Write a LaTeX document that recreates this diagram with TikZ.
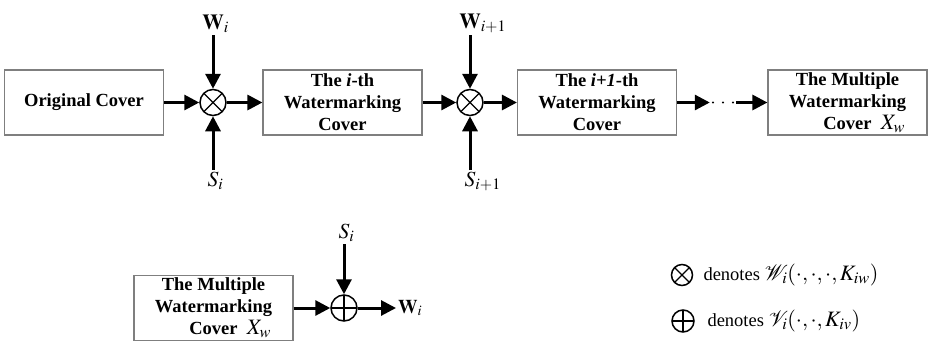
\documentclass[tikz,border=0pt]{standalone}
\usepackage{amsmath, amssymb}
\usepackage{mathptmx}
\usepackage{fontspec}
\setmainfont{Liberation Serif}
\usepackage{xcolor}
\definecolor{boxgray}{HTML}{7F7F7F}
\usepackage{tikz}
\usetikzlibrary{positioning, arrows.meta}
\newcommand{\multcover}{The Multiple\\Watermarking\\\hspace*{1.8em}Cover\ \ {\fontsize{22bp}{22bp}\selectfont$X_{w}$}}

\begin{document}
\begin{tikzpicture}[
  x=1bp, y=-1bp,
  font=\fontsize{18.5bp}{22bp}\selectfont,
  cover/.style={draw=boxgray, line width=1.2bp, minimum width=159bp, minimum height=65bp,
                inner sep=1bp, align=center, font=\fontsize{18.5bp}{22bp}\selectfont\bfseries},
  mul/.style={draw, circle, line width=1.5bp, minimum size=26bp, inner sep=0pt,
              path picture={\draw[line width=1.3bp]
                (path picture bounding box.north west) -- (path picture bounding box.south east)
                (path picture bounding box.north east) -- (path picture bounding box.south west);}},
  add/.style={draw, circle, line width=1.5bp, minimum size=26bp, inner sep=0pt,
              path picture={\draw[line width=1.3bp]
                (path picture bounding box.north) -- (path picture bounding box.south)
                (path picture bounding box.west) -- (path picture bounding box.east);}},
  lbl/.style={inner sep=2bp, font=\fontsize{21.5bp}{24bp}\selectfont},
  flow/.style={-{Triangle[length=15bp, width=15bp]}, line width=3bp}
]
  \useasboundingbox (0,0) rectangle (929,345);

  % embedding chain
  \node[cover] (orig)  at (84,102.5)    {Original Cover};
  \node[mul]   (mul1)  at (213,102.5)   {};
  \node[cover] (cov1)  at (342.5,102.5) {The \textit{i}-th\\Watermarking\\Cover};
  \node[mul]   (mul2)  at (470,102.5)   {};
  \node[cover] (cov2)  at (597,102.5)   {The \textit{i+1}-th\\Watermarking\\Cover};
  \node[inner sep=0pt, minimum width=26bp] (dots) at (723,102.5) {};
  \node[cover] (multi) at (847.5,102.5) {\multcover};

  \node[lbl, anchor=south] (wi)    at (213,35)  {$\mathbf{W}\rlap{$_{i}$}$};
  \node[lbl, anchor=north] (si)    at (213,170) {$S\rlap{$_{i}$}$};
  \node[lbl, anchor=south] (wnext) at (470,35)  {$\mathbf{W}\rlap{$_{i+1}$}$};
  \node[lbl, anchor=north] (snext) at (470,170) {$S\rlap{$_{i+1}$}$};

  \draw[flow] (orig)  -- (mul1);
  \draw[flow] (mul1)  -- (cov1);
  \draw[flow] (wi)    -- (mul1);
  \draw[flow] (si)    -- (mul1);
  \draw[flow] (cov1)  -- (mul2);
  \draw[flow] (mul2)  -- (cov2);
  \draw[flow] (wnext) -- (mul2);
  \draw[flow] (snext) -- (mul2);
  \draw[flow] (cov2)  -- (dots);
  \draw[flow] (dots)  -- (multi);
  \foreach \dx in {-10,0,10}
    \fill (dots.center) ++(\dx,0) circle (1.2);

  % extraction
  \node[cover] (multb) at (213.5,308) {\multcover};
  \node[add]   (add1)  at (344,308)   {};
  \node[lbl, anchor=south] (sib)  at (344,244) {$S\rlap{$_{i}$}$};
  \node[lbl, anchor=west, font=\fontsize{19.5bp}{22bp}\selectfont] (wout) at (396,308) {$\mathbf{W}\rlap{$_{i}$}$};

  \draw[flow] (multb) -- (add1);
  \draw[flow] (sib)   -- (add1);
  \draw[flow] (add1)  -- (wout);

  % legend
  \node[mul, minimum size=21bp] (legmul) at (682,275) {};
  \node[anchor=west] (legmultxt) at (700,275)
        {denotes\ {\fontsize{22bp}{24bp}\selectfont$\mathcal{W}_{i}(\cdot,\cdot,\cdot,K_{iw})$}};
  \node[add, minimum size=22bp] (legadd) at (683,321) {};
  \node[anchor=west] (legaddtxt) at (704,321)
        {denotes\ {\fontsize{22bp}{24bp}\selectfont$\mathcal{V}_{i}(\cdot,\cdot,K_{iv})$}};
\end{tikzpicture}
\end{document}
